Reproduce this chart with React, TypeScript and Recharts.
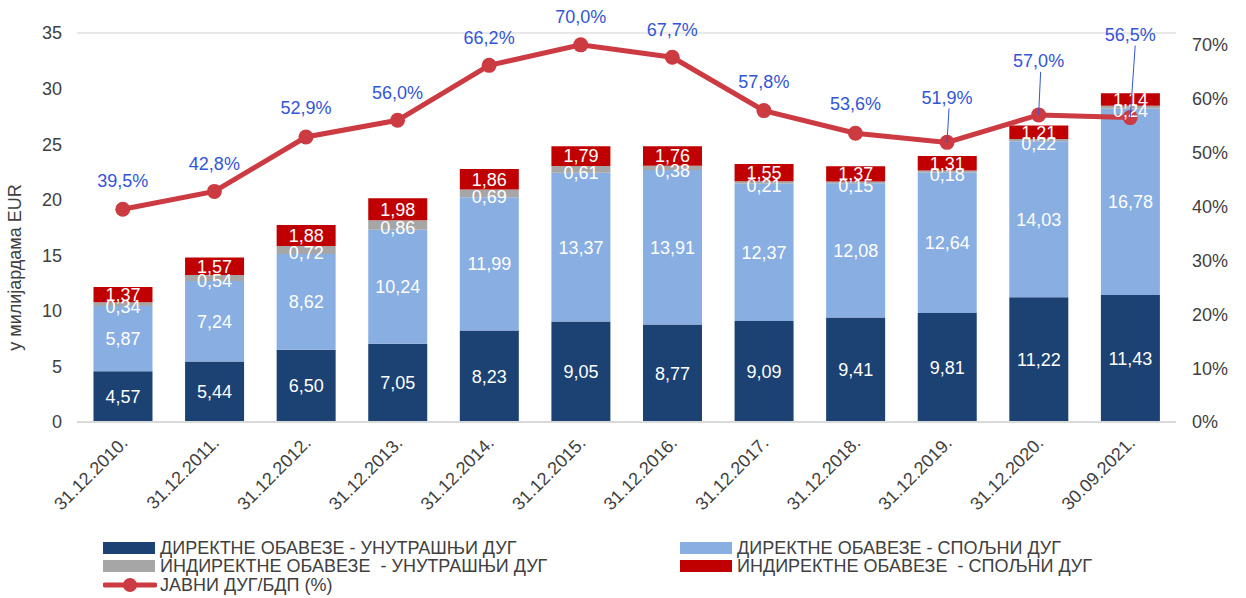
import React from 'react';
import { ComposedChart, Bar, Line, XAxis, YAxis, CartesianGrid, LabelList } from 'recharts';

const dates = [
  '31.12.2010.', '31.12.2011.', '31.12.2012.', '31.12.2013.', '31.12.2014.', '31.12.2015.',
  '31.12.2016.', '31.12.2017.', '31.12.2018.', '31.12.2019.', '31.12.2020.', '30.09.2021.',
];
const directDomestic = [4.57, 5.44, 6.5, 7.05, 8.23, 9.05, 8.77, 9.09, 9.41, 9.81, 11.22, 11.43];
const directForeign = [5.87, 7.24, 8.62, 10.24, 11.99, 13.37, 13.91, 12.37, 12.08, 12.64, 14.03, 16.78];
const indirectDomestic = [0.34, 0.54, 0.72, 0.86, 0.69, 0.61, 0.38, 0.21, 0.15, 0.18, 0.22, 0.24];
const indirectForeign = [1.37, 1.57, 1.88, 1.98, 1.86, 1.79, 1.76, 1.55, 1.37, 1.31, 1.21, 1.14];
const debtToGdp = [39.5, 42.8, 52.9, 56.0, 66.2, 70.0, 67.7, 57.8, 53.6, 51.9, 57.0, 56.5];

const leftTicks = [0, 5, 10, 15, 20, 25, 30, 35];
const rightTicks = [0, 10, 20, 30, 40, 50, 60, 70];

const seriesNames = {
  dd: 'ДИРЕКТНЕ ОБАВЕЗЕ - УНУТРАШЊИ ДУГ',
  df: 'ДИРЕКТНЕ ОБАВЕЗЕ - СПОЉНИ ДУГ',
  id: 'ИНДИРЕКТНЕ ОБАВЕЗЕ  - УНУТРАШЊИ ДУГ',
  if: 'ИНДИРЕКТНЕ ОБАВЕЗЕ  - СПОЉНИ ДУГ',
  gdp: 'ЈАВНИ ДУГ/БДП (%)',
};

const data = dates.map((d, i) => ({
  date: d,
  dd: directDomestic[i],
  df: directForeign[i],
  id: indirectDomestic[i],
  if: indirectForeign[i],
  gdp: debtToGdp[i],
}));

// how far above the point each percent label sits (last three use leader lines)
const labelLift = [28, 28, 29, 28, 28, 28, 28, 29, 30, 45, 54, 83];

const FONT = 'Liberation Sans, Arial, sans-serif';
const FS = 18;
const fmt = (v: number) => v.toFixed(2).replace('.', ',');

const C = {
  dd: '#1c4173',
  df: '#88aee2',
  id: '#a6a6a6',
  if: '#c00000',
  line: '#cc3a42',
  lbl: '#3355d6',
  tick: '#404040',
  grid: '#e8e8e8',
};

const XTick = (props: any) => {
  const { x, y, payload } = props;
  return (
    <text
      x={x + 6}
      y={y + 14}
      textAnchor="end"
      fontSize={FS}
      fontFamily={FONT}
      fill={C.tick}
      transform={`rotate(-45 ${x + 6} ${y + 14})`}
    >
      {payload.value}
    </text>
  );
};

const PctLabel = (props: any) => {
  const { x, y, value, index } = props;
  const lift = labelLift[index];
  const ty = y - lift;
  return (
    <g>
      {lift > 40 && (
        <line x1={x + (index === 11 ? 5 : 2)} y1={ty + 11} x2={x} y2={y} stroke={C.lbl} strokeWidth={1} />
      )}
      <text x={x} y={ty} dy="0.35em" textAnchor="middle" fontSize={FS} fontFamily={FONT} fill={C.lbl}>
        {value.toFixed(1).replace('.', ',') + '%'}
      </text>
    </g>
  );
};

const legendItems = [
  { key: 'dd', color: C.dd, left: 103, top: 539 },
  { key: 'df', color: C.df, left: 680, top: 539 },
  { key: 'id', color: C.id, left: 103, top: 557 },
  { key: 'if', color: C.if, left: 680, top: 557 },
  { key: 'gdp', color: C.line, left: 103, top: 576, line: true },
];

export default function App() {
  return (
    <div style={{ position: 'absolute', left: 0, top: 0, width: 1246, height: 598, background: '#fff', fontFamily: FONT }}>
      <ComposedChart
        width={1246}
        height={598}
        data={data}
        margin={{ top: 33, right: 0, left: 0, bottom: 76 }}
        barCategoryGap="18%"
      >
        <CartesianGrid vertical={false} stroke={C.grid} strokeWidth={2} />
        <XAxis
          dataKey="date"
          interval={0}
          height={100}
          tick={<XTick />}
          tickLine={false}
          axisLine={{ stroke: '#d9d9d9', strokeWidth: 2 }}
        />
        <YAxis
          yAxisId="l"
          width={77}
          domain={[0, 35]}
          ticks={leftTicks}
          tickLine={false}
          axisLine={false}
          tickSize={0}
          tickMargin={15}
          tick={{ fontSize: FS, fontFamily: FONT, fill: C.tick }}
          label={{
            value: 'у милијардама EUR',
            angle: -90,
            position: 'insideLeft',
            dx: 10,
            dy: 40,
            style: { fontSize: FS, fontFamily: FONT, fill: C.tick, textAnchor: 'middle' },
          }}
        />
        <YAxis
          yAxisId="r"
          orientation="right"
          width={70}
          domain={[0, 72.2]}
          ticks={rightTicks}
          tickLine={false}
          axisLine={false}
          tickSize={0}
          tickMargin={16}
          tickFormatter={(v) => `${v}%`}
          tick={{ fontSize: FS, fontFamily: FONT, fill: C.tick, textAnchor: 'start' }}
        />
        <Bar yAxisId="l" dataKey="dd" stackId="a" fill={C.dd} isAnimationActive={false}>
          <LabelList dataKey="dd" position="center" formatter={fmt} fill="#fff" fontSize={FS} fontFamily={FONT} />
        </Bar>
        <Bar yAxisId="l" dataKey="df" stackId="a" fill={C.df} isAnimationActive={false}>
          <LabelList dataKey="df" position="center" formatter={fmt} fill="#fff" fontSize={FS} fontFamily={FONT} />
        </Bar>
        <Bar yAxisId="l" dataKey="id" stackId="a" fill={C.id} isAnimationActive={false}>
          <LabelList dataKey="id" position="center" formatter={fmt} fill="#fff" fontSize={FS} fontFamily={FONT} dy={3} />
        </Bar>
        <Bar yAxisId="l" dataKey="if" stackId="a" fill={C.if} isAnimationActive={false}>
          <LabelList dataKey="if" position="center" formatter={fmt} fill="#fff" fontSize={FS} fontFamily={FONT} />
        </Bar>
        <Line
          yAxisId="r"
          dataKey="gdp"
          stroke={C.line}
          strokeWidth={5}
          dot={{ r: 7.5, fill: C.line, stroke: C.line, strokeWidth: 0 }}
          isAnimationActive={false}
        >
          <LabelList dataKey="gdp" content={<PctLabel />} />
        </Line>
      </ComposedChart>
      {legendItems.map((it) => (
        <div
          key={it.key}
          style={{ position: 'absolute', left: it.left, top: it.top, display: 'flex', alignItems: 'center', height: 18 }}
        >
          <svg width={54} height={16} style={{ marginRight: 3 }}>
            {it.line ? (
              <>
                <line x1={2} y1={8} x2={52} y2={8} stroke={it.color} strokeWidth={5} strokeLinecap="round" />
                <circle cx={27} cy={8} r={7} fill={it.color} />
              </>
            ) : (
              <rect x={0} y={2} width={52} height={12} fill={it.color} />
            )}
          </svg>
          <span style={{ fontSize: FS, color: C.tick, whiteSpace: 'pre' }}>{seriesNames[it.key as keyof typeof seriesNames]}</span>
        </div>
      ))}
    </div>
  );
}
